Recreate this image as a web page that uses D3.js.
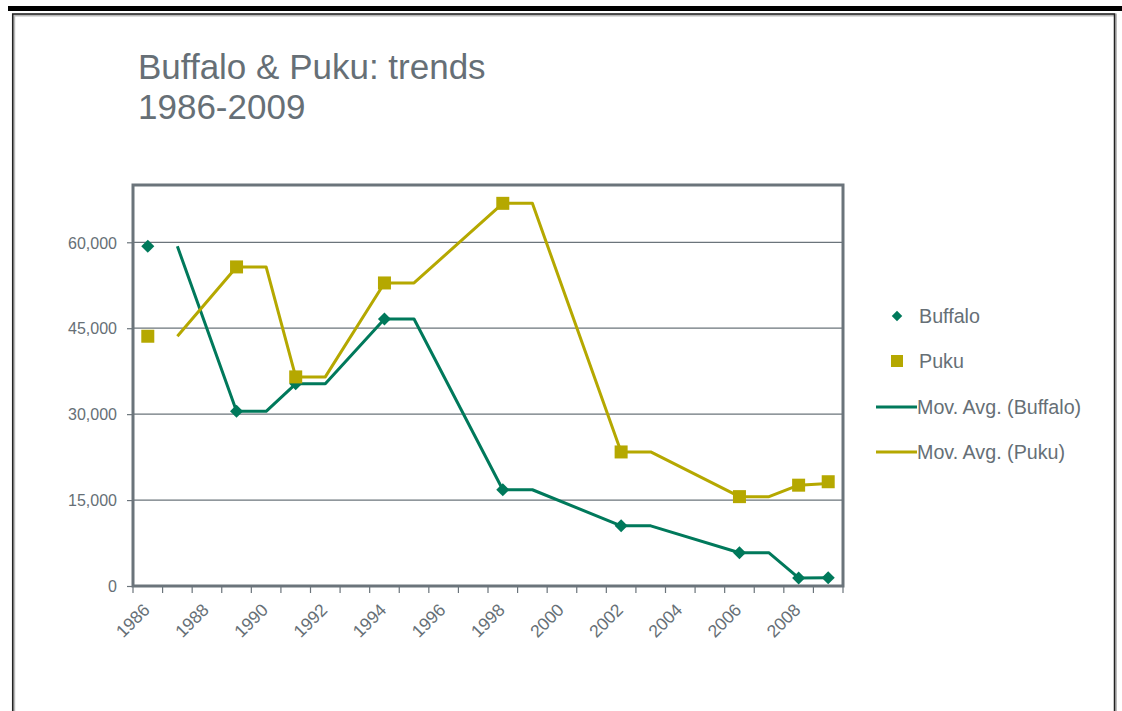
<!DOCTYPE html>
<html>
<head>
<meta charset="utf-8">
<script src="https://cdn.jsdelivr.net/npm/d3@7"></script>
<style>
  html, body { margin: 0; padding: 0; background: #fff; }
  svg { display: block; font-family: "Liberation Sans", Arial, sans-serif; }
</style>
</head>
<body>
<svg id="chart" width="1122" height="711"></svg>
<script>
const years = ["1986","1987","1988","1989","1990","1991","1992","1993","1994","1995","1996","1997",
               "1998","1999","2000","2001","2002","2003","2004","2005","2006","2007","2008","2009"];
const buffalo = [59300,null,null,30500,null,35300,null,null,46600,null,null,null,
                 16800,null,null,null,10500,null,null,null,5800,null,1400,1450];
const puku = [43600,null,null,55700,null,36500,null,null,52900,null,null,null,
              66800,null,null,null,23400,null,null,null,15600,null,17600,18200];
const buffaloMovAvg = [null,59300,null,30500,30500,35300,35300,null,46600,46600,null,null,
                       16800,16800,null,null,10500,10500,null,null,5800,5800,1400,1425];
const pukuMovAvg = [null,43600,null,55700,55700,36500,36500,null,52900,52900,null,null,
                    66800,66800,null,null,23400,23400,null,null,15600,15600,17600,17900];
const yTicks = [0,15000,30000,45000,60000];
const xLabelYears = years.filter((d,i) => i % 2 === 0);
const titleLines = ["Buffalo & Puku: trends", "1986-2009"];
const legendItems = ["Buffalo", "Puku", "Mov. Avg. (Buffalo)", "Mov. Avg. (Puku)"];

const GREEN = "#00795b", OLIVE = "#b5a800", GRAY = "#6b747b", TEXT = "#666f76";
const svg = d3.select("#chart");

// page decoration
svg.append("rect").attr("x", 8).attr("y", 6).attr("width", 1114).attr("height", 5).attr("fill", "#000");
svg.append("path").attr("d", "M12.7,720 V14 H1114.5 V720").attr("fill", "none")
   .attr("stroke", "#bbb").attr("stroke-width", 3).attr("transform", "translate(1,1)");
svg.append("path").attr("d", "M12.7,720 V14 H1114.5 V720").attr("fill", "none")
   .attr("stroke", "#222").attr("stroke-width", 1.5);

// title
svg.append("text").attr("x", 138).attr("y", 79).attr("fill", TEXT).attr("font-size", 35)
   .selectAll("tspan").data(titleLines).join("tspan")
   .attr("x", 138).attr("dy", (d,i) => i === 0 ? 0 : 40).text(d => d);

const L = 133, R = 843, T = 185, B = 586;
const x = d3.scaleBand().domain(years).range([L, R]).paddingInner(0).paddingOuter(0);
const y = d3.scaleLinear().domain([0, 70000]).range([B, T]);
const cx = d => x(d) + x.bandwidth() / 2;

// gridlines
svg.append("g").selectAll("line").data(yTicks.filter(v => v > 0)).join("line")
   .attr("x1", L).attr("x2", R).attr("y1", d => y(d)).attr("y2", d => y(d))
   .attr("stroke", GRAY).attr("stroke-width", 1.2);

// frame
svg.append("rect").attr("x", L).attr("y", T).attr("width", R - L).attr("height", B - T)
   .attr("fill", "none").attr("stroke", GRAY).attr("stroke-width", 3);

// y axis
const yAxis = svg.append("g").attr("transform", `translate(${L},0)`)
   .call(d3.axisLeft(y).tickValues(yTicks).tickFormat(d3.format(",")).tickSize(6).tickPadding(10));
yAxis.select(".domain").remove();
yAxis.selectAll(".tick line").attr("stroke", GRAY).attr("stroke-width", 1.2);
yAxis.selectAll(".tick text").attr("fill", TEXT).attr("font-size", 16)
   .attr("font-family", "Liberation Sans, Arial, sans-serif").attr("dy", "0.36em");

// x axis ticks at category boundaries
const bounds = years.map(d => x(d)).concat([R]);
svg.append("g").selectAll("line").data(bounds).join("line")
   .attr("x1", d => d).attr("x2", d => d).attr("y1", B).attr("y2", B + 7)
   .attr("stroke", GRAY).attr("stroke-width", 1.2);

const xAxis = svg.append("g").attr("transform", `translate(0,${B})`)
   .call(d3.axisBottom(x).tickValues(xLabelYears).tickSize(0).tickPadding(0));
xAxis.select(".domain").remove();
xAxis.selectAll(".tick text")
   .attr("fill", TEXT).attr("font-size", 17.5)
   .attr("font-family", "Liberation Sans, Arial, sans-serif")
   .attr("text-anchor", "end")
   .attr("transform", "translate(3,25) rotate(-45)")
   .attr("dy", 0).attr("y", 0);

// moving average lines
function maLine(vals, color) {
  const pts = years.map((d,i) => [d, vals[i]]).filter(p => p[1] !== null);
  svg.append("path").datum(pts)
     .attr("d", d3.line().x(p => cx(p[0])).y(p => y(p[1])))
     .attr("fill", "none").attr("stroke", color).attr("stroke-width", 3)
     .attr("stroke-linejoin", "round");
}
maLine(buffaloMovAvg, GREEN);
maLine(pukuMovAvg, OLIVE);

// markers
const diamond = d3.symbol().type(d3.symbolSquare).size(85);
const bPts = years.map((d,i) => [d, buffalo[i]]).filter(p => p[1] !== null);
svg.append("g").selectAll("path").data(bPts).join("path")
   .attr("d", diamond)
   .attr("transform", p => `translate(${cx(p[0])},${y(p[1])}) rotate(45)`)
   .attr("fill", GREEN);
const pPts = years.map((d,i) => [d, puku[i]]).filter(p => p[1] !== null);
svg.append("g").selectAll("rect").data(pPts).join("rect")
   .attr("x", p => cx(p[0]) - 6.5).attr("y", p => y(p[1]) - 6.5)
   .attr("width", 13).attr("height", 13).attr("fill", OLIVE);

// legend
const lg = svg.append("g");
const ly = [316, 361, 407, 452];
lg.append("path").attr("d", d3.symbol().type(d3.symbolSquare).size(55))
  .attr("transform", `translate(897,${ly[0]}) rotate(45)`).attr("fill", GREEN);
lg.append("rect").attr("x", 891).attr("y", ly[1] - 6).attr("width", 12).attr("height", 12).attr("fill", OLIVE);
lg.append("line").attr("x1", 876).attr("x2", 917).attr("y1", ly[2]).attr("y2", ly[2])
  .attr("stroke", GREEN).attr("stroke-width", 3);
lg.append("line").attr("x1", 876).attr("x2", 917).attr("y1", ly[3]).attr("y2", ly[3])
  .attr("stroke", OLIVE).attr("stroke-width", 3);
lg.selectAll("text").data(legendItems).join("text")
  .attr("x", (d,i) => i < 2 ? 919 : 917).attr("y", (d,i) => ly[i]).attr("dy", "0.36em")
  .attr("fill", TEXT).attr("font-size", 19.7).text(d => d);
</script>
</body>
</html>
